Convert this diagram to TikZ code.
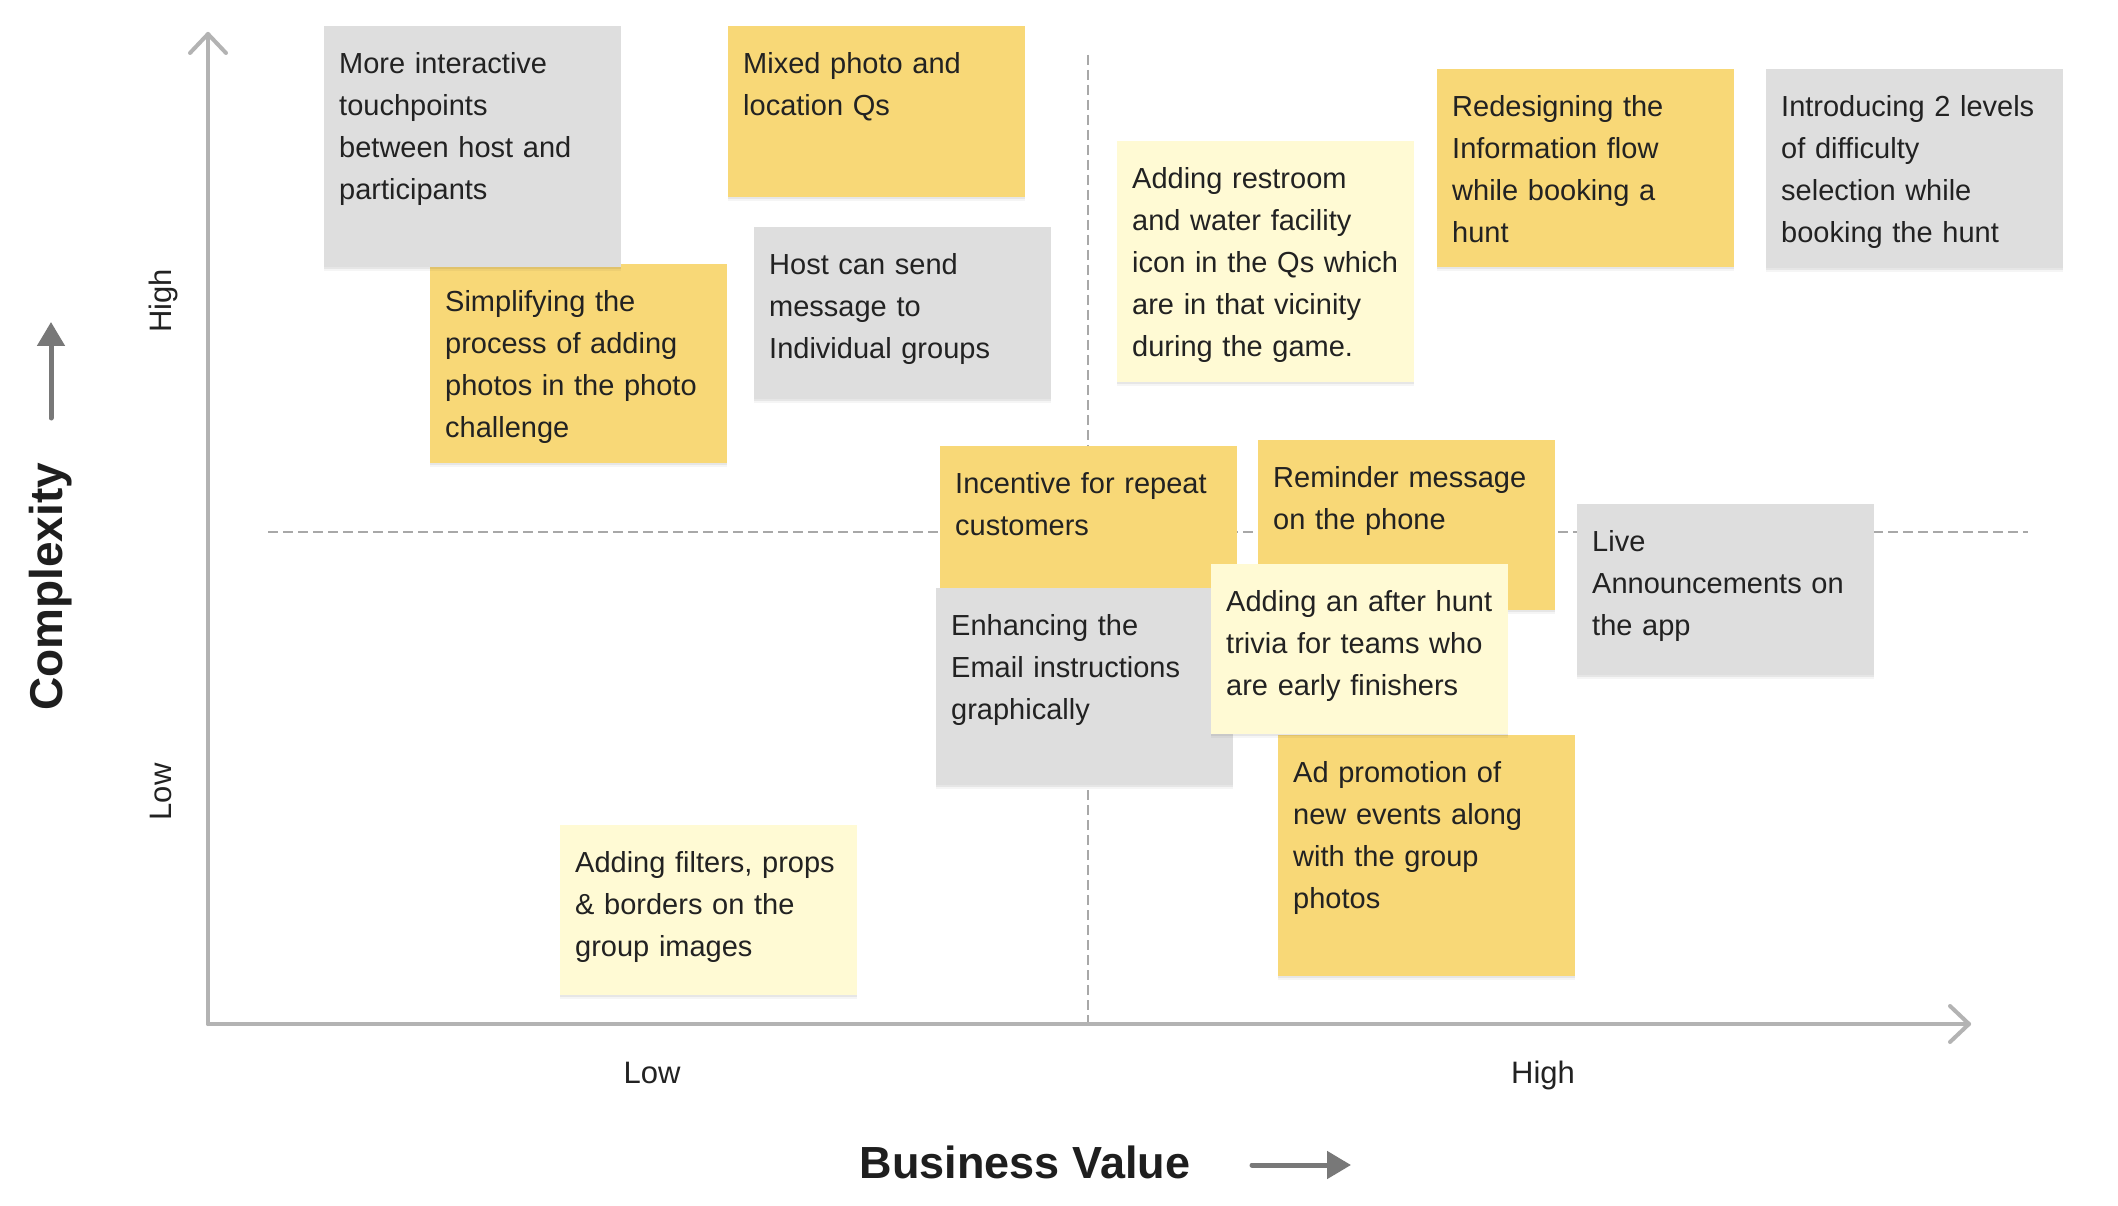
\documentclass[tikz,border=0pt]{standalone}
\usepackage{fontspec}
\setmainfont{Liberation Sans}
\usetikzlibrary{arrows.meta,shadows}
\definecolor{noteyel}{HTML}{F8D877}
\definecolor{notegray}{HTML}{DEDEDE}
\definecolor{notelight}{HTML}{FFFAD4}
\definecolor{axisgray}{HTML}{B3B3B3}
\definecolor{dashgray}{HTML}{A8A8A8}
\definecolor{arrowgray}{HTML}{787878}
\definecolor{inktext}{HTML}{222222}
\definecolor{inkbold}{HTML}{1E1E1E}
\newcommand\nstrut{\rule{0pt}{29pt}}
\begin{document}
\begin{tikzpicture}[x=1pt,y=-1pt,
  notebox/.style={rectangle, draw=none, anchor=north west, minimum width=297pt, inner sep=0pt,
    drop shadow={shadow xshift=0pt, shadow yshift=-3.5pt, opacity=0.04, fill=black},
    drop shadow={shadow xshift=0pt, shadow yshift=-1.8pt, opacity=0.06, fill=black}},
  yelnote/.style={notebox, fill=noteyel},
  graynote/.style={notebox, fill=notegray},
  lightnote/.style={notebox, fill=notelight},
  notetext/.style={anchor=north west, inner sep=0pt, xshift=15pt, yshift=-18pt, text width=282pt,
    align=left, font=\fontsize{29}{42}\selectfont, text=inktext},
  axis/.style={draw=axisgray, line width=4pt, line cap=round, line join=round},
  quadline/.style={draw=dashgray, line width=1.5pt, dash pattern=on 10pt off 5pt},
  axlabel/.style={font=\fontsize{31}{36}\selectfont, text=inktext, inner sep=0pt},
  bigbold/.style={font=\fontsize{46}{52}\selectfont\bfseries, text=inkbold, inner sep=0pt},
  bigarrow/.style={draw=arrowgray, line width=5pt, line cap=round, -{Triangle[length=24pt,width=27pt]}}
]
\fill[white] (0,0) rectangle (2118,1206);
\useasboundingbox (0,0) rectangle (2118,1206);

% quadrant lines
\coordinate (Vtop) at (1088,55);
\coordinate (Vbot) at (1088,1024);
\coordinate (Hl) at (268,532);
\coordinate (Hr) at (2028,532);
\draw[quadline] (Vtop) -- (Vbot);
\draw[quadline] (Hl) -- (Hr);

% axes
\coordinate (O) at (208,1024);
\coordinate (Ytop) at (208,34);
\coordinate (Xend) at (1969,1024);
\draw[axis] (O) -- (Ytop);
\draw[axis] (O) -- (Xend);
\draw[axis] (Ytop) ++(-18,19) -- (Ytop) -- ++(18,19);
\draw[axis] (Xend) ++(-19,-18) -- (Xend) -- ++(-19,18);

% axis labels
\node[axlabel, rotate=90, anchor=base] (hiY) at (171,301) {High};
\node[axlabel, rotate=90, anchor=base] (loY) at (171,792) {Low};
\node[axlabel, anchor=base] (loX) at (652,1083) {Low};
\node[axlabel, anchor=base] (hiX) at (1543,1083) {High};

\node[bigbold, rotate=90, anchor=base] (cx) at (62,587) {Complexity};
\coordinate (ca1) at (51,418);
\coordinate (ca2) at (51,322);
\draw[bigarrow] (ca1) -- (ca2);

\node[bigbold, font=\fontsize{45}{52}\selectfont\bfseries, anchor=base] (bv) at (1025,1178) {Business Value};
\coordinate (ba1) at (1252,1165);
\coordinate (ba2) at (1351,1165);
\draw[bigarrow] (ba1) -- (ba2);

% notes
\node[yelnote, minimum height=199pt] (n3) at (430,264) {};
\node[notetext] (t3) at (n3.north west) {\nstrut Simplifying the\\process of adding\\photos in the photo\\challenge};

\node[graynote, minimum height=241pt] (n1) at (324,26) {};
\node[notetext] (t1) at (n1.north west) {\nstrut More interactive\\touchpoints\\between host and\\participants};

\node[yelnote, minimum height=171pt] (n2) at (728,26) {};
\node[notetext] (t2) at (n2.north west) {\nstrut Mixed photo and\\location Qs};

\node[graynote, minimum height=172pt] (n4) at (754,227) {};
\node[notetext] (t4) at (n4.north west) {\nstrut Host can send\\message to\\Individual groups};

\node[lightnote, minimum height=241pt] (n5) at (1117,141) {};
\node[notetext] (t5) at (n5.north west) {\nstrut Adding restroom\\and water facility\\icon in the Qs which\\are in that vicinity\\during the game.};

\node[yelnote, minimum height=198pt] (n6) at (1437,69) {};
\node[notetext] (t6) at (n6.north west) {\nstrut Redesigning the\\Information flow\\while booking a\\hunt};

\node[graynote, minimum height=199pt] (n7) at (1766,69) {};
\node[notetext] (t7) at (n7.north west) {\nstrut Introducing 2 levels\\of difficulty\\selection while\\booking the hunt};

\node[yelnote, minimum height=171pt] (n8) at (940,446) {};
\node[notetext] (t8) at (n8.north west) {\nstrut Incentive for repeat\\customers};

\node[graynote, minimum height=197pt] (n11) at (936,588) {};
\node[notetext] (t11) at (n11.north west) {\nstrut Enhancing the\\Email instructions\\graphically};

\node[yelnote, minimum height=170pt] (n9) at (1258,440) {};
\node[notetext] (t9) at (n9.north west) {\nstrut Reminder message\\on the phone};

\node[yelnote, minimum height=241pt] (n13) at (1278,735) {};
\node[notetext] (t13) at (n13.north west) {\nstrut Ad promotion of\\new events along\\with the group\\photos};

\node[lightnote, minimum height=170pt] (n12) at (1211,564) {};
\node[notetext] (t12) at (n12.north west) {\nstrut Adding an after hunt\\trivia for teams who\\are early finishers};

\node[graynote, minimum height=171pt] (n10) at (1577,504) {};
\node[notetext] (t10) at (n10.north west) {\nstrut Live\\Announcements on\\the app};

\node[lightnote, minimum height=170pt] (n14) at (560,825) {};
\node[notetext] (t14) at (n14.north west) {\nstrut Adding filters, props\\\& borders on the\\group images};
\end{tikzpicture}
\end{document}
